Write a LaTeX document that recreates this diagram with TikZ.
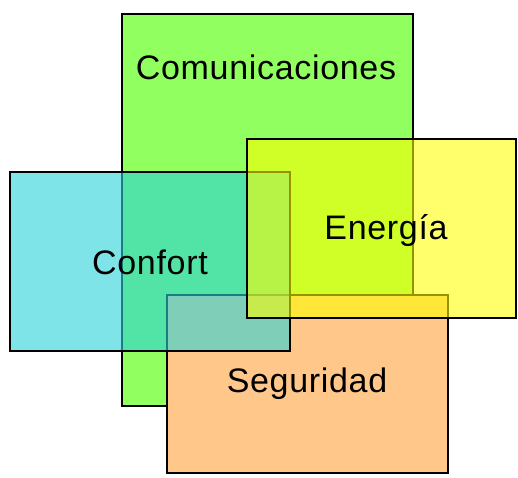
\documentclass[tikz,border=0pt]{standalone}
\usepackage{fontspec}
\setmainfont{Liberation Sans}[LetterSpace=2]
\usepackage{tikz}
\usepackage{xcolor}
\usetikzlibrary{positioning}

\definecolor{comgreen}{RGB}{145,255,95}
\definecolor{segorange}{RGB}{255,200,138}
\definecolor{confcyan}{RGB}{40,210,215}
\definecolor{enyellow}{RGB}{255,255,0}

\begin{document}
\begin{tikzpicture}[x=1pt, y=-1pt, line join=miter,
    area/.style={draw=black, line width=1.1pt},
    areatext/.style={font=\fontsize{34}{39}\selectfont, text=black, inner sep=0pt}]
            \useasboundingbox (0,0) rectangle (518,477);

            % comunicaciones (bottom, opaque)
            \filldraw[area, fill=comgreen] (122,14) rectangle (413,406);

            % seguridad (opaque, over green)
            \filldraw[area, fill=segorange] (167,295) rectangle (448,473);

            % confort (see-through)
            \filldraw[area, fill=confcyan, fill opacity=0.6] (10,172) rectangle (290,351);

            % energia (see-through, on top)
            \filldraw[area, fill=enyellow, fill opacity=0.58] (247,139) rectangle (516,318);

            % labels
            \node[areatext] (com) at (266,67) {Comunicaciones};
            \node[areatext] (conf) at (150,262) {Confort};
            \node[areatext] (ener) at (386,231) {Energía};
            \node[areatext] (seg) at (307,384) {Seguridad};
\end{tikzpicture}
\end{document}
